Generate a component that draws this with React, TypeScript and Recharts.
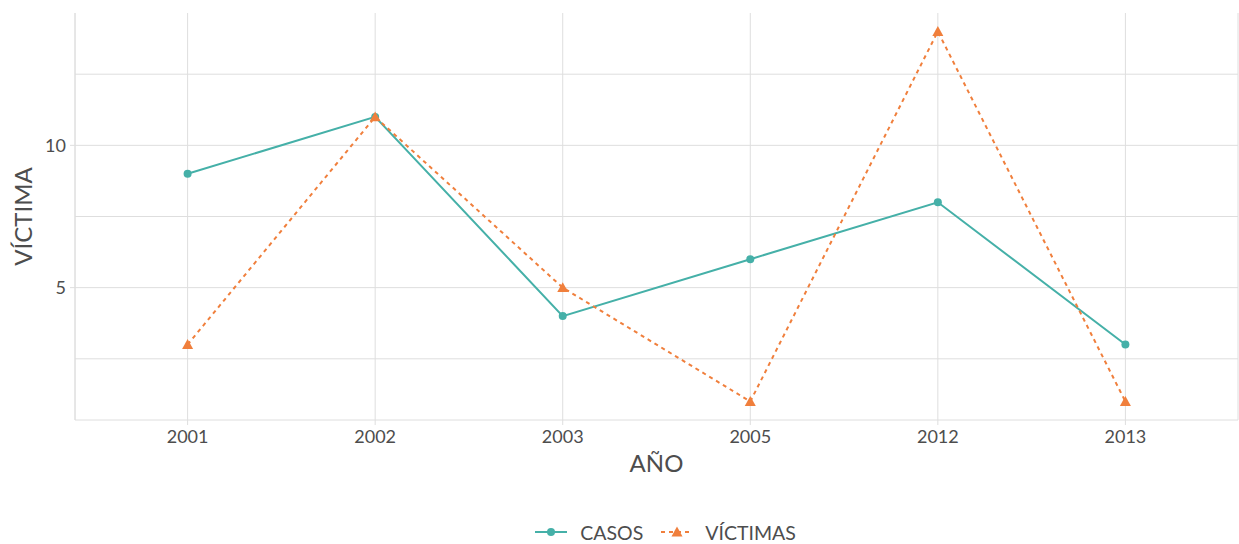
import { LineChart, Line, XAxis, YAxis, CartesianGrid, Legend } from 'recharts';

const years = ['2001', '2002', '2003', '2005', '2012', '2013'];
const casos = [9, 11, 4, 6, 8, 3];
const victimas = [3, 11, 5, 1, 14, 1];
const yTicks = [5, 10];
const gridValues = [2.5, 5, 7.5, 10, 12.5];

const TEAL = '#45B0A8';
const ORANGE = '#F07F3C';
const GRID = '#DEDEDE';
const TEXT = '#4D4D4D';
const FONT = 'Lato, "Noto Sans", sans-serif';

const data = years.map((year, i) => ({ year, casos: casos[i], victimas: victimas[i] }));

const Triangle = (props: any) => {
  const { cx, cy } = props;
  if (cx == null || cy == null) return null;
  const s = 5.5;
  return (
    <path
      d={`M${cx},${cy - s} L${cx + s},${cy + s * 0.8} L${cx - s},${cy + s * 0.8} Z`}
      fill={ORANGE}
    />
  );
};

const LegendContent = () => (
  <div
    style={{
      display: 'flex',
      justifyContent: 'center',
      alignItems: 'center',
      height: 24,
      paddingLeft: 92,
      fontFamily: FONT,
      fontSize: 19.5,
      color: TEXT,
    }}
  >
    <svg width={34} height={14} style={{ marginRight: 12 }}>
      <line x1={1} y1={7} x2={33} y2={7} stroke={TEAL} strokeWidth={2} />
      <circle cx={17} cy={7} r={4} fill={TEAL} />
    </svg>
    <span style={{ marginRight: 17 }}>CASOS</span>
    <svg width={34} height={14} style={{ marginRight: 11 }}>
      <line x1={1} y1={7} x2={33} y2={7} stroke={ORANGE} strokeWidth={2} strokeDasharray="4 4" />
      <path d="M17,1.5 L22.5,11.5 L11.5,11.5 Z" fill={ORANGE} />
    </svg>
    <span>VÍCTIMAS</span>
  </div>
);

export default function App() {
  return (
    <div style={{ position: 'absolute', left: 0, top: 0, background: '#fff' }}>
      <LineChart width={1239} height={544} data={data} margin={{ top: 13, right: 1, bottom: 0, left: 0 }}>
        <CartesianGrid stroke={GRID} horizontalValues={gridValues} />
        <XAxis
          dataKey="year"
          padding={{ left: 112.6, right: 112.6 }}
          height={100}
          stroke={GRID}
          tickSize={5}
          tick={{ fill: TEXT, fontSize: 18, fontFamily: FONT }}
          tickMargin={5}
          label={{ value: 'AÑO', position: 'insideTop', offset: 35, fill: TEXT, fontSize: 24, fontFamily: FONT }}
        />
        <XAxis xAxisId="top" orientation="top" dataKey="year" height={0} tick={false} tickLine={false} stroke={GRID} />
        <YAxis
          domain={[0.35, 14.65]}
          ticks={yTicks}
          width={75}
          stroke={GRID}
          tickSize={5}
          tick={{ fill: TEXT, fontSize: 18, fontFamily: FONT }}
          tickMargin={4}
          label={{
            content: ({ viewBox }: any) => {
              const x = viewBox.x + 22;
              const y = viewBox.y + viewBox.height / 2;
              return (
                <text
                  x={x}
                  y={y}
                  transform={`rotate(-90 ${x} ${y})`}
                  textAnchor="middle"
                  dominantBaseline="central"
                  fill={TEXT}
                  fontSize={24}
                  fontFamily={FONT}
                >
                  VÍCTIMA
                </text>
              );
            },
          }}
        />
        <YAxis yAxisId="right" orientation="right" width={0} tick={false} tickLine={false} stroke={GRID} domain={[0.35, 14.65]} />
        <Line
          dataKey="casos"
          stroke={TEAL}
          strokeWidth={2}
          dot={{ r: 4, fill: TEAL, stroke: 'none' }}
          activeDot={false}
          isAnimationActive={false}
        />
        <Line
          dataKey="victimas"
          stroke={ORANGE}
          strokeWidth={2}
          strokeDasharray="4 4"
          dot={<Triangle />}
          activeDot={false}
          isAnimationActive={false}
        />
        <Legend verticalAlign="bottom" content={<LegendContent />} />
      </LineChart>
    </div>
  );
}
